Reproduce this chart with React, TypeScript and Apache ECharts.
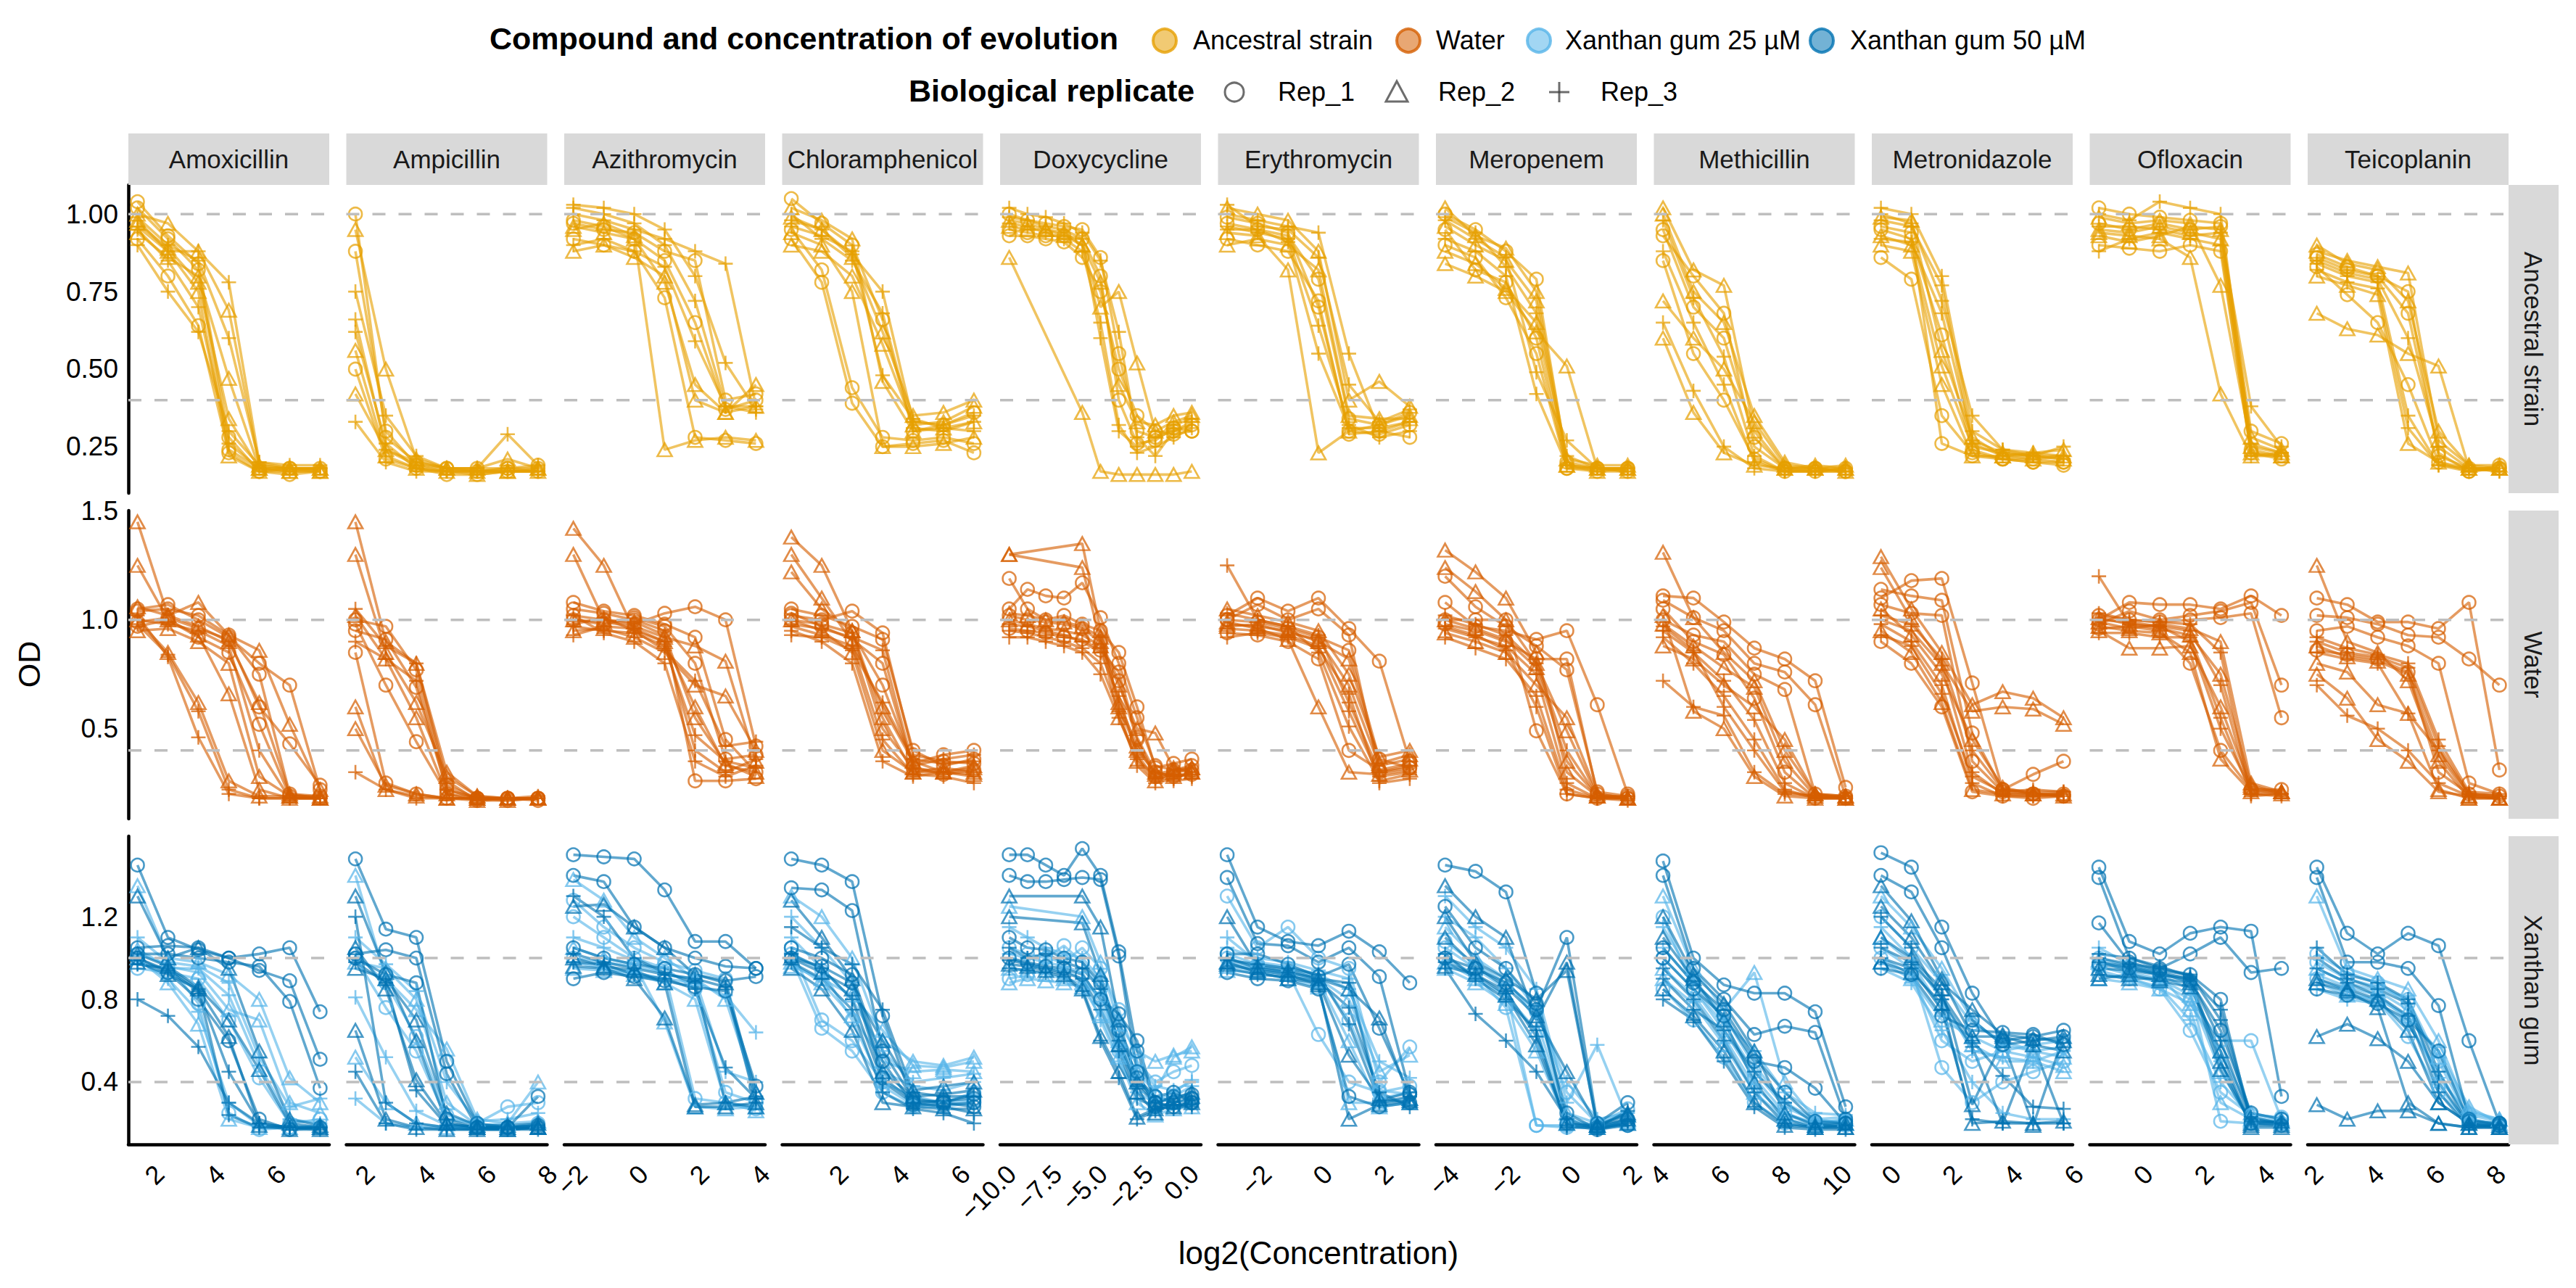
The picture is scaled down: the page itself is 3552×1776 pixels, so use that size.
import React, { useEffect, useRef } from 'react';
import * as echarts from 'echarts';

type Curve = [number, (number | null)[]];

const DRUGS = ['Amoxicillin', 'Ampicillin', 'Azithromycin', 'Chloramphenicol', 'Doxycycline', 'Erythromycin', 'Meropenem', 'Methicillin', 'Metronidazole', 'Ofloxacin', 'Teicoplanin'];
const ROW_LABELS = ['Ancestral strain', 'Water', 'Xanthan gum'];
const GROUP_LABELS = ['Ancestral strain', 'Water', 'Xanthan gum 25 µM', 'Xanthan gum 50 µM'];
const GROUP_COLORS = ['#E69F00', '#D55E00', '#56B4E9', '#0072B2'];
const REP_LABELS = ['Rep_1', 'Rep_2', 'Rep_3'];

// log2(concentration) per drug
const X_AMOX = [1.58, 2.58, 3.58, 4.58, 5.58, 6.58, 7.58];
const X_AMP = [1.83, 2.83, 3.83, 4.83, 5.83, 6.83, 7.83];
const X_AZI = [-2, -1, 0, 1, 2, 3, 4];
const X_CHL = [0.58, 1.58, 2.58, 3.58, 4.58, 5.58, 6.58];
const X_DOX = [-9.62, -8.62, -7.62, -6.62, -5.62, -4.62, -3.62, -2.62, -1.62, -0.62, 0.38];
const X_ERY = [-3, -2, -1, 0, 1, 2, 3];
const X_MER = [-4, -3, -2, -1, 0, 1, 2];
const X_MET = [4.26, 5.26, 6.26, 7.26, 8.26, 9.26, 10.26];
const X_MTZ = [-0.2, 0.8, 1.8, 2.8, 3.8, 4.8, 5.8];
const X_OFL = [-1.32, -0.32, 0.68, 1.68, 2.68, 3.68, 4.68];
const X_TEI = [2.25, 3.25, 4.25, 5.25, 6.25, 7.25, 8.25];

// tick labels
const XT_AMOX = [2, 4, 6];
const XT_AMP = [2, 4, 6, 8];
const XT_AZI = [-2, 0, 2, 4];
const XT_CHL = [2, 4, 6];
const XT_DOX = [-10, -7.5, -5, -2.5, 0];
const XT_ERY = [-2, 0, 2];
const XT_MER = [-4, -2, 0, 2];
const XT_MET = [4, 6, 8, 10];
const XT_MTZ = [0, 2, 4, 6];
const XT_OFL = [0, 2, 4];
const XT_TEI = [2, 4, 6, 8];

const YT_ANC = [0.25, 0.5, 0.75, 1.0];
const YT_WAT = [0.5, 1.0, 1.5];
const YT_XAN = [0.4, 0.8, 1.2];
const Y_RANGE_ANC = [0.1, 1.094];
const Y_RANGE_WAT = [0.086, 1.502];
const Y_RANGE_XAN = [0.098, 1.59];
const THRESHOLDS = [1.0, 0.4];

// ---------- Amoxicillin ----------
const AMOX_ANC: Curve[] = [
  [1, [1.02, 0.92, 0.82, 0.24, 0.18, 0.18, 0.18]],
  [2, [0.98, 0.88, 0.75, 0.22, 0.17, 0.17, 0.17]],
  [3, [0.95, 0.85, 0.70, 0.26, 0.18, 0.17, 0.18]],
  [1, [0.92, 0.80, 0.64, 0.23, 0.17, 0.18, 0.17]],
  [2, [1.00, 0.97, 0.88, 0.69, 0.19, 0.18, 0.18]],
  [3, [0.96, 0.88, 0.88, 0.78, 0.20, 0.18, 0.18]],
  [2, [0.94, 0.86, 0.80, 0.47, 0.18, 0.17, 0.17]],
  [3, [0.90, 0.75, 0.62, 0.30, 0.19, 0.18, 0.18]],
  [3, [0.99, 0.90, 0.85, 0.60, 0.20, 0.19, 0.19]],
  [2, [0.97, 0.89, 0.78, 0.34, 0.18, 0.18, 0.18]],
  [1, [1.04, 0.93, 0.84, 0.28, 0.17, 0.16, 0.17]],
];
const AMOX_WAT: Curve[] = [
  [2, [1.45, 1.02, 0.97, 0.90, 0.62, 0.20, 0.18]],
  [2, [1.00, 0.85, 0.62, 0.26, 0.19, 0.19, 0.19]],
  [3, [0.98, 0.84, 0.58, 0.22, 0.18, 0.18, 0.18]],
  [3, [1.02, 0.83, 0.46, 0.20, 0.18, 0.18, 0.18]],
  [1, [1.04, 1.05, 1.02, 0.93, 0.75, 0.20, 0.19]],
  [1, [1.05, 1.07, 1.00, 0.92, 0.80, 0.70, 0.22]],
  [1, [0.97, 1.00, 0.92, 0.85, 0.52, 0.19, 0.18]],
  [3, [1.00, 0.98, 0.95, 0.88, 0.40, 0.18, 0.18]],
  [2, [0.95, 0.96, 0.90, 0.80, 0.28, 0.19, 0.18]],
  [2, [1.06, 1.02, 1.08, 0.93, 0.86, 0.52, 0.22]],
  [2, [1.25, 1.00, 0.93, 0.66, 0.22, 0.18, 0.18]],
  [1, [0.99, 1.01, 0.96, 0.91, 0.60, 0.43, 0.24]],
];
const AMOX_X25: Curve[] = [
  [2, [1.35, 1.00, 0.98, 0.92, 0.80, 0.42, 0.30]],
  [2, [1.00, 0.88, 0.68, 0.22, 0.18, 0.18, 0.18]],
  [3, [0.97, 0.95, 0.95, 0.82, 0.48, 0.22, 0.20]],
  [2, [1.04, 0.96, 0.93, 0.75, 0.70, 0.30, 0.25]],
  [1, [0.95, 0.93, 0.90, 0.70, 0.42, 0.20, 0.22]],
  [1, [1.02, 0.97, 0.78, 0.25, 0.17, 0.18, 0.18]],
  [3, [1.10, 0.98, 0.96, 0.88, 0.52, 0.28, 0.32]],
  [3, [0.99, 0.90, 0.74, 0.30, 0.19, 0.18, 0.19]],
];
const AMOX_X50: Curve[] = [
  [1, [1.45, 1.10, 1.04, 1.00, 1.02, 1.05, 0.74]],
  [1, [1.05, 1.06, 1.05, 1.00, 0.94, 0.89, 0.51]],
  [1, [1.02, 1.02, 1.00, 0.98, 0.96, 0.79, 0.37]],
  [3, [1.00, 0.94, 0.84, 0.45, 0.20, 0.18, 0.18]],
  [2, [0.98, 0.92, 0.85, 0.62, 0.19, 0.17, 0.17]],
  [3, [0.80, 0.72, 0.57, 0.30, 0.20, 0.18, 0.17]],
  [2, [1.02, 0.96, 0.86, 0.70, 0.46, 0.20, 0.18]],
  [2, [1.30, 1.00, 1.05, 0.95, 0.55, 0.22, 0.19]],
  [3, [0.97, 0.95, 0.85, 0.24, 0.18, 0.18, 0.18]],
  [1, [1.00, 0.93, 0.80, 0.60, 0.22, 0.17, 0.18]],
];

// ---------- Ampicillin ----------
const AMP_ANC: Curve[] = [
  [1, [1.00, 0.28, 0.20, 0.18, 0.17, 0.18, 0.18]],
  [2, [0.95, 0.50, 0.21, 0.18, 0.17, 0.17, 0.18]],
  [3, [0.75, 0.35, 0.22, 0.18, 0.18, 0.29, 0.19]],
  [3, [0.66, 0.24, 0.19, 0.17, 0.17, 0.17, 0.17]],
  [2, [0.56, 0.22, 0.18, 0.17, 0.16, 0.17, 0.17]],
  [1, [0.50, 0.21, 0.18, 0.16, 0.16, 0.17, 0.17]],
  [2, [0.42, 0.24, 0.20, 0.18, 0.18, 0.21, 0.18]],
  [3, [0.33, 0.20, 0.17, 0.17, 0.17, 0.18, 0.17]],
  [1, [0.88, 0.30, 0.19, 0.18, 0.18, 0.18, 0.19]],
  [3, [0.62, 0.26, 0.18, 0.17, 0.17, 0.17, 0.17]],
];
const AMP_WAT: Curve[] = [
  [2, [1.45, 0.90, 0.80, 0.30, 0.19, 0.18, 0.18]],
  [1, [1.00, 0.97, 0.77, 0.24, 0.18, 0.18, 0.18]],
  [1, [0.95, 0.91, 0.69, 0.22, 0.18, 0.17, 0.18]],
  [2, [1.02, 0.82, 0.55, 0.20, 0.18, 0.18, 0.18]],
  [1, [0.98, 0.70, 0.44, 0.20, 0.17, 0.18, 0.17]],
  [3, [0.90, 0.82, 0.72, 0.22, 0.18, 0.18, 0.18]],
  [2, [0.60, 0.22, 0.19, 0.18, 0.18, 0.18, 0.18]],
  [2, [0.50, 0.24, 0.20, 0.18, 0.17, 0.17, 0.18]],
  [3, [0.30, 0.22, 0.18, 0.18, 0.18, 0.18, 0.18]],
  [2, [1.30, 0.85, 0.62, 0.28, 0.19, 0.18, 0.18]],
  [1, [0.85, 0.25, 0.20, 0.18, 0.18, 0.18, 0.18]],
  [3, [1.05, 0.88, 0.80, 0.26, 0.17, 0.18, 0.19]],
];
const AMP_X25: Curve[] = [
  [2, [1.40, 0.90, 0.75, 0.56, 0.22, 0.20, 0.40]],
  [1, [1.00, 0.76, 0.55, 0.22, 0.20, 0.28, 0.30]],
  [3, [0.81, 0.52, 0.26, 0.19, 0.18, 0.18, 0.19]],
  [2, [0.52, 0.30, 0.20, 0.18, 0.18, 0.18, 0.18]],
  [2, [0.98, 0.95, 0.80, 0.30, 0.19, 0.20, 0.21]],
  [1, [1.02, 0.88, 0.62, 0.24, 0.19, 0.18, 0.20]],
  [3, [0.32, 0.20, 0.18, 0.18, 0.18, 0.18, 0.18]],
  [3, [1.10, 0.97, 0.84, 0.40, 0.21, 0.22, 0.25]],
];
const AMP_X50: Curve[] = [
  [1, [1.48, 1.14, 1.10, 0.50, 0.20, 0.18, 0.19]],
  [1, [1.02, 1.04, 1.00, 0.44, 0.18, 0.18, 0.18]],
  [2, [1.30, 0.93, 0.60, 0.20, 0.18, 0.17, 0.18]],
  [1, [1.00, 0.92, 0.88, 0.22, 0.18, 0.18, 0.33]],
  [2, [0.65, 0.22, 0.18, 0.17, 0.17, 0.17, 0.18]],
  [2, [1.05, 0.85, 0.41, 0.20, 0.18, 0.18, 0.18]],
  [3, [0.45, 0.20, 0.17, 0.17, 0.17, 0.17, 0.17]],
  [3, [0.98, 0.88, 0.36, 0.19, 0.18, 0.18, 0.19]],
  [3, [1.20, 0.30, 0.20, 0.18, 0.17, 0.17, 0.18]],
  [2, [0.95, 0.90, 0.70, 0.25, 0.19, 0.19, 0.20]],
];

// ---------- Azithromycin ----------
const AZI_ANC: Curve[] = [
  [3, [1.00, 0.98, 0.95, 0.92, 0.88, 0.84, 0.38]],
  [2, [0.96, 0.94, 0.92, 0.78, 0.45, 0.36, 0.45]],
  [2, [0.95, 0.97, 0.93, 0.24, 0.27, 0.28, 0.27]],
  [1, [0.92, 0.90, 0.88, 0.73, 0.28, 0.27, 0.26]],
  [3, [1.02, 1.00, 0.97, 0.90, 0.72, 0.38, 0.38]],
  [1, [0.98, 0.96, 0.92, 0.85, 0.65, 0.37, 0.40]],
  [3, [0.90, 0.92, 0.88, 0.83, 0.59, 0.38, 0.36]],
  [3, [1.03, 1.02, 1.00, 0.95, 0.80, 0.52, 0.37]],
  [2, [0.88, 0.90, 0.86, 0.80, 0.40, 0.36, 0.38]],
  [1, [0.97, 0.95, 0.94, 0.88, 0.85, 0.40, 0.42]],
];
const AZI_WAT: Curve[] = [
  [2, [1.42, 1.25, 0.95, 0.90, 0.60, 0.33, 0.30]],
  [1, [1.02, 1.00, 0.98, 1.03, 1.06, 1.00, 0.42]],
  [1, [1.00, 0.98, 1.01, 0.97, 0.80, 0.36, 0.38]],
  [3, [0.97, 0.95, 0.94, 0.88, 0.47, 0.35, 0.32]],
  [1, [1.05, 1.03, 1.00, 0.95, 0.26, 0.26, 0.27]],
  [2, [0.95, 0.96, 0.92, 0.85, 0.70, 0.65, 0.40]],
  [2, [1.00, 0.99, 0.97, 0.92, 0.88, 0.81, 0.35]],
  [3, [0.93, 0.97, 0.96, 0.90, 0.40, 0.30, 0.36]],
  [1, [1.08, 1.04, 1.02, 0.98, 0.92, 0.45, 0.30]],
  [2, [1.30, 1.00, 0.99, 0.93, 0.55, 0.34, 0.28]],
  [3, [0.98, 1.01, 0.95, 0.86, 0.72, 0.42, 0.44]],
  [3, [1.02, 0.94, 0.90, 0.80, 0.35, 0.28, 0.33]],
];
const AZI_X25: Curve[] = [
  [2, [1.38, 1.28, 1.10, 1.00, 0.90, 0.80, 0.35]],
  [2, [1.05, 1.00, 0.97, 0.69, 0.28, 0.27, 0.28]],
  [3, [0.98, 0.95, 0.93, 0.90, 0.88, 0.82, 0.64]],
  [1, [1.20, 1.10, 1.00, 0.95, 0.85, 0.35, 0.30]],
  [1, [1.00, 0.98, 0.96, 0.93, 0.32, 0.30, 0.27]],
  [3, [1.10, 1.05, 0.99, 0.92, 0.90, 0.45, 0.40]],
  [2, [0.95, 0.94, 0.92, 0.88, 0.80, 0.30, 0.26]],
  [1, [1.28, 1.15, 1.05, 0.98, 0.94, 0.90, 0.30]],
];
const AZI_X50: Curve[] = [
  [1, [1.50, 1.49, 1.48, 1.33, 1.08, 1.08, 0.95]],
  [1, [1.40, 1.37, 1.15, 1.05, 1.00, 0.96, 0.95]],
  [3, [1.02, 0.98, 0.95, 0.92, 0.90, 0.86, 0.30]],
  [2, [1.00, 0.96, 0.94, 0.88, 0.28, 0.28, 0.30]],
  [3, [0.98, 0.97, 0.92, 0.90, 0.85, 0.47, 0.32]],
  [2, [1.25, 1.26, 1.15, 1.05, 0.92, 0.88, 0.35]],
  [2, [0.96, 0.95, 0.90, 0.71, 0.29, 0.30, 0.28]],
  [1, [1.05, 1.00, 0.97, 0.95, 0.92, 0.89, 0.91]],
  [3, [1.30, 1.20, 1.00, 0.93, 0.88, 0.30, 0.33]],
  [1, [0.90, 0.93, 0.91, 0.89, 0.86, 0.84, 0.38]],
];

// ---------- Chloramphenicol ----------
const CHL_ANC: Curve[] = [
  [2, [1.02, 0.98, 0.92, 0.46, 0.30, 0.31, 0.33]],
  [3, [0.98, 0.95, 0.87, 0.75, 0.33, 0.32, 0.35]],
  [1, [0.95, 0.82, 0.44, 0.28, 0.27, 0.28, 0.26]],
  [1, [0.92, 0.78, 0.39, 0.25, 0.26, 0.27, 0.23]],
  [3, [1.00, 0.92, 0.85, 0.68, 0.31, 0.30, 0.33]],
  [2, [0.90, 0.88, 0.80, 0.58, 0.32, 0.33, 0.38]],
  [3, [0.96, 0.93, 0.88, 0.48, 0.34, 0.31, 0.30]],
  [1, [1.05, 0.97, 0.90, 0.66, 0.30, 0.32, 0.36]],
  [2, [0.94, 0.90, 0.75, 0.25, 0.25, 0.26, 0.28]],
  [2, [0.99, 0.95, 0.86, 0.62, 0.35, 0.36, 0.40]],
];
const CHL_WAT: Curve[] = [
  [2, [1.38, 1.25, 0.95, 0.50, 0.32, 0.30, 0.33]],
  [1, [1.02, 1.00, 1.04, 0.94, 0.38, 0.35, 0.34]],
  [3, [0.98, 0.96, 0.92, 0.86, 0.33, 0.36, 0.38]],
  [2, [1.00, 0.95, 0.85, 0.40, 0.30, 0.32, 0.30]],
  [3, [0.95, 0.90, 0.80, 0.35, 0.28, 0.30, 0.28]],
  [1, [1.05, 1.02, 0.97, 0.91, 0.40, 0.33, 0.36]],
  [2, [1.30, 1.10, 0.90, 0.60, 0.35, 0.30, 0.32]],
  [3, [0.97, 0.93, 0.88, 0.45, 0.29, 0.28, 0.25]],
  [1, [1.00, 0.98, 0.94, 0.70, 0.34, 0.38, 0.40]],
  [2, [1.22, 1.05, 0.95, 0.55, 0.30, 0.30, 0.29]],
  [3, [0.93, 0.92, 0.86, 0.62, 0.36, 0.34, 0.35]],
  [1, [1.03, 0.97, 0.91, 0.80, 0.32, 0.29, 0.31]],
];
const CHL_X25: Curve[] = [
  [2, [1.30, 1.20, 1.00, 0.60, 0.50, 0.48, 0.52]],
  [1, [1.05, 0.70, 0.60, 0.40, 0.33, 0.30, 0.35]],
  [2, [0.98, 0.88, 0.72, 0.50, 0.45, 0.46, 0.45]],
  [3, [1.10, 0.95, 0.80, 0.55, 0.40, 0.42, 0.44]],
  [1, [1.00, 0.66, 0.55, 0.35, 0.28, 0.28, 0.30]],
  [3, [1.20, 1.05, 0.88, 0.45, 0.38, 0.36, 0.40]],
  [2, [0.96, 0.90, 0.82, 0.65, 0.48, 0.47, 0.50]],
  [1, [1.02, 0.94, 0.70, 0.38, 0.29, 0.30, 0.31]],
];
const CHL_X50: Curve[] = [
  [1, [1.48, 1.45, 1.37, 0.72, 0.30, 0.31, 0.32]],
  [1, [1.34, 1.33, 1.23, 0.55, 0.32, 0.30, 0.28]],
  [3, [1.02, 0.95, 0.80, 0.40, 0.30, 0.28, 0.25]],
  [2, [1.28, 1.10, 0.90, 0.45, 0.33, 0.34, 0.36]],
  [3, [0.98, 0.90, 0.75, 0.35, 0.27, 0.25, 0.20]],
  [2, [1.00, 0.93, 0.85, 0.60, 0.36, 0.38, 0.40]],
  [1, [1.05, 1.00, 0.92, 0.50, 0.29, 0.29, 0.30]],
  [2, [0.95, 0.85, 0.65, 0.30, 0.28, 0.27, 0.27]],
  [3, [1.15, 1.05, 0.97, 0.75, 0.35, 0.33, 0.33]],
  [1, [1.00, 0.96, 0.88, 0.42, 0.31, 0.30, 0.34]],
];

// ---------- Doxycycline ----------
const DOX_ANC: Curve[] = [
  [1, [1.00, 0.98, 0.97, 0.96, 0.95, 0.86, 0.55, 0.30, 0.28, 0.30, 0.32]],
  [1, [0.95, 0.94, 0.93, 0.93, 0.92, 0.80, 0.40, 0.26, 0.27, 0.31, 0.30]],
  [2, [0.86, null, null, null, 0.36, 0.17, 0.16, 0.16, 0.16, 0.16, 0.17]],
  [2, [0.98, 0.97, 0.95, 0.94, 0.90, 0.70, 0.75, 0.52, 0.30, 0.33, 0.35]],
  [3, [0.97, 0.96, 0.94, 0.92, 0.88, 0.65, 0.32, 0.23, 0.25, 0.28, 0.31]],
  [1, [0.93, 0.93, 0.92, 0.91, 0.86, 0.75, 0.50, 0.35, 0.30, 0.29, 0.30]],
  [3, [1.02, 1.00, 0.99, 0.97, 0.94, 0.85, 0.62, 0.28, 0.22, 0.30, 0.33]],
  [2, [0.96, 0.95, 0.95, 0.93, 0.90, 0.78, 0.45, 0.33, 0.32, 0.35, 0.36]],
  [3, [0.99, 0.98, 0.96, 0.95, 0.92, 0.60, 0.30, 0.25, 0.28, 0.32, 0.34]],
];
const DOX_WAT: Curve[] = [
  [2, [1.30, null, null, null, 1.35, 0.95, 0.60, 0.40, 0.30, 0.28, 0.30]],
  [2, [1.30, null, null, null, 1.24, 0.90, 0.55, 0.35, 0.26, 0.30, 0.32]],
  [1, [1.05, 1.14, 1.11, 1.10, 1.17, 1.01, 0.80, 0.55, 0.33, 0.31, 0.33]],
  [1, [1.02, 1.00, 0.99, 0.98, 0.96, 0.90, 0.72, 0.45, 0.28, 0.30, 0.31]],
  [3, [0.98, 0.97, 0.95, 0.93, 0.90, 0.85, 0.65, 0.38, 0.27, 0.29, 0.28]],
  [3, [0.95, 0.94, 0.92, 0.90, 0.87, 0.80, 0.58, 0.33, 0.25, 0.27, 0.30]],
  [2, [1.00, 0.98, 0.96, 0.95, 0.93, 0.88, 0.70, 0.50, 0.48, 0.32, 0.30]],
  [3, [0.92, 0.92, 0.90, 0.88, 0.85, 0.75, 0.55, 0.36, 0.28, 0.26, 0.27]],
  [1, [1.19, 1.05, 1.00, 1.02, 0.98, 0.95, 0.85, 0.60, 0.32, 0.34, 0.36]],
  [2, [1.03, 1.02, 1.00, 0.99, 0.97, 0.92, 0.62, 0.42, 0.29, 0.31, 0.32]],
  [1, [0.96, 0.95, 0.94, 0.92, 0.91, 0.86, 0.76, 0.46, 0.30, 0.28, 0.29]],
];
const DOX_X25: Curve[] = [
  [2, [1.25, null, null, null, 1.20, 0.98, 0.68, 0.55, 0.50, 0.53, 0.55]],
  [1, [1.05, 1.02, 1.00, 0.98, 1.05, 0.95, 0.75, 0.50, 0.40, 0.45, 0.48]],
  [2, [0.95, 0.94, 0.92, 0.90, 0.88, 0.82, 0.60, 0.45, 0.35, 0.52, 0.57]],
  [3, [1.00, 0.97, 0.95, 0.94, 0.90, 0.70, 0.50, 0.35, 0.30, 0.33, 0.38]],
  [1, [0.90, 0.92, 1.00, 1.06, 0.98, 0.85, 0.55, 0.40, 0.33, 0.30, 0.32]],
  [3, [1.15, 1.10, 1.05, 1.02, 1.00, 0.90, 0.65, 0.48, 0.38, 0.36, 0.40]],
  [2, [0.88, 0.90, 0.89, 0.88, 0.86, 0.72, 0.52, 0.30, 0.24, 0.27, 0.28]],
  [3, [1.02, 1.00, 0.98, 0.96, 0.93, 0.78, 0.58, 0.42, 0.31, 0.35, 0.41]],
];
const DOX_X50: Curve[] = [
  [1, [1.50, 1.50, 1.45, 1.40, 1.53, 1.40, 1.03, 0.55, 0.30, 0.28, 0.30]],
  [1, [1.40, 1.37, 1.37, 1.38, 1.39, 1.38, 1.01, 0.45, 0.28, 0.30, 0.32]],
  [2, [1.30, null, null, null, 1.30, 1.15, 0.70, 0.40, 0.30, 0.32, 0.33]],
  [2, [0.97, 0.96, 0.94, 0.92, 0.85, 0.62, 0.45, 0.23, 0.27, 0.28, 0.30]],
  [3, [0.95, 0.94, 0.93, 0.91, 0.84, 0.60, 0.42, 0.22, 0.26, 0.29, 0.28]],
  [3, [1.05, 1.00, 1.02, 0.98, 0.95, 0.85, 0.60, 0.38, 0.30, 0.28, 0.31]],
  [2, [1.20, null, null, null, 1.17, 0.92, 0.58, 0.35, 0.25, 0.32, 0.35]],
  [1, [1.00, 0.98, 0.96, 0.95, 0.92, 0.80, 0.73, 0.60, 0.30, 0.33, 0.34]],
  [3, [0.99, 0.97, 0.95, 0.93, 0.90, 0.75, 0.55, 0.32, 0.28, 0.27, 0.29]],
  [1, [1.10, 1.05, 1.04, 1.00, 0.98, 0.88, 0.65, 0.42, 0.33, 0.35, 0.30]],
];

// ---------- Erythromycin ----------
const ERY_ANC: Curve[] = [
  [3, [1.00, 0.98, 0.96, 0.94, 0.55, 0.30, 0.33]],
  [1, [0.97, 0.95, 0.93, 0.79, 0.34, 0.32, 0.36]],
  [2, [0.94, 0.93, 0.82, 0.23, 0.30, 0.32, 0.35]],
  [1, [0.92, 0.90, 0.88, 0.72, 0.29, 0.30, 0.28]],
  [2, [1.02, 1.00, 0.98, 0.88, 0.40, 0.46, 0.38]],
  [3, [0.96, 0.94, 0.92, 0.64, 0.32, 0.28, 0.30]],
  [2, [0.90, 0.92, 0.90, 0.82, 0.35, 0.34, 0.34]],
  [1, [0.99, 0.97, 0.94, 0.70, 0.30, 0.29, 0.32]],
  [3, [1.03, 0.96, 0.95, 0.86, 0.45, 0.33, 0.37]],
  [3, [0.95, 0.95, 0.91, 0.55, 0.31, 0.31, 0.33]],
];
const ERY_WAT: Curve[] = [
  [3, [1.25, 1.00, 0.97, 0.93, 0.62, 0.30, 0.33]],
  [1, [1.02, 1.10, 1.04, 1.10, 0.96, 0.81, 0.35]],
  [1, [1.00, 1.07, 1.00, 1.05, 0.93, 0.30, 0.32]],
  [2, [0.98, 0.97, 0.95, 0.90, 0.82, 0.34, 0.38]],
  [3, [0.96, 0.95, 0.93, 0.88, 0.58, 0.28, 0.30]],
  [3, [1.03, 1.00, 0.97, 0.85, 0.51, 0.26, 0.29]],
  [2, [0.97, 0.98, 0.94, 0.91, 0.70, 0.33, 0.36]],
  [1, [0.94, 0.93, 0.90, 0.82, 0.40, 0.31, 0.34]],
  [2, [1.05, 1.02, 0.99, 0.95, 0.75, 0.37, 0.40]],
  [3, [0.92, 0.94, 0.92, 0.87, 0.66, 0.25, 0.27]],
  [1, [1.00, 0.99, 0.96, 0.92, 0.86, 0.36, 0.32]],
  [2, [0.99, 0.96, 0.91, 0.60, 0.30, 0.29, 0.31]],
];
const ERY_X25: Curve[] = [
  [1, [1.30, 1.05, 1.15, 1.00, 0.95, 0.40, 0.57]],
  [1, [1.00, 0.96, 0.93, 0.63, 0.40, 0.35, 0.38]],
  [2, [0.98, 0.95, 0.93, 0.90, 0.80, 0.45, 0.53]],
  [3, [1.05, 1.00, 0.98, 0.94, 0.90, 0.32, 0.35]],
  [2, [0.96, 0.94, 0.92, 0.89, 0.60, 0.28, 0.30]],
  [3, [1.10, 0.98, 0.96, 0.92, 0.85, 0.50, 0.42]],
  [2, [0.94, 0.93, 0.90, 0.86, 0.30, 0.30, 0.32]],
  [1, [1.02, 0.97, 0.95, 0.91, 0.70, 0.36, 0.34]],
];
const ERY_X50: Curve[] = [
  [1, [1.50, 1.15, 1.08, 1.06, 1.13, 1.03, 0.88]],
  [1, [1.39, 1.07, 1.06, 0.98, 1.05, 0.91, 0.35]],
  [3, [1.00, 0.95, 0.93, 0.90, 0.88, 0.30, 0.33]],
  [2, [0.97, 0.94, 0.92, 0.87, 0.22, 0.29, 0.31]],
  [2, [0.98, 0.93, 0.90, 0.88, 0.53, 0.32, 0.30]],
  [1, [1.02, 1.02, 0.97, 0.91, 0.97, 0.66, 0.34]],
  [3, [0.95, 0.92, 0.91, 0.89, 0.76, 0.35, 0.28]],
  [2, [1.20, 0.96, 0.94, 0.90, 0.85, 0.71, 0.32]],
  [3, [0.99, 0.97, 0.95, 0.92, 0.68, 0.31, 0.35]],
  [1, [0.93, 0.90, 0.89, 0.85, 0.33, 0.28, 0.30]],
];

// ---------- Meropenem ----------
const MER_ANC: Curve[] = [
  [1, [1.00, 0.95, 0.88, 0.79, 0.20, 0.18, 0.18]],
  [2, [0.96, 0.90, 0.85, 0.72, 0.19, 0.17, 0.17]],
  [2, [0.84, 0.80, 0.75, 0.62, 0.51, 0.18, 0.18]],
  [1, [0.95, 0.82, 0.78, 0.60, 0.18, 0.18, 0.17]],
  [3, [0.98, 0.92, 0.86, 0.49, 0.27, 0.18, 0.18]],
  [3, [0.92, 0.88, 0.80, 0.42, 0.19, 0.18, 0.18]],
  [2, [1.02, 0.93, 0.89, 0.75, 0.21, 0.19, 0.19]],
  [1, [0.90, 0.86, 0.73, 0.55, 0.18, 0.17, 0.18]],
  [3, [0.99, 0.94, 0.83, 0.68, 0.22, 0.18, 0.17]],
  [2, [0.88, 0.84, 0.76, 0.65, 0.19, 0.18, 0.18]],
];
const MER_WAT: Curve[] = [
  [2, [1.32, 1.22, 1.10, 0.85, 0.30, 0.19, 0.18]],
  [2, [1.24, 1.13, 1.00, 0.80, 0.49, 0.19, 0.18]],
  [1, [1.08, 0.97, 0.95, 0.91, 0.95, 0.61, 0.20]],
  [1, [1.00, 1.00, 1.00, 0.49, 0.20, 0.18, 0.18]],
  [1, [0.98, 0.95, 0.90, 0.82, 0.82, 0.20, 0.18]],
  [3, [0.96, 0.92, 0.88, 0.75, 0.25, 0.18, 0.19]],
  [2, [0.94, 0.90, 0.85, 0.70, 0.55, 0.20, 0.18]],
  [3, [1.02, 0.98, 0.93, 0.80, 0.40, 0.19, 0.19]],
  [3, [0.92, 0.87, 0.82, 0.65, 0.22, 0.18, 0.17]],
  [1, [1.20, 1.06, 0.97, 0.88, 0.77, 0.21, 0.19]],
  [2, [1.00, 0.96, 0.91, 0.78, 0.35, 0.19, 0.18]],
  [3, [0.97, 0.93, 0.86, 0.60, 0.20, 0.18, 0.18]],
];
const MER_X25: Curve[] = [
  [3, [1.30, 1.15, 1.05, 0.85, 0.30, 0.58, 0.22]],
  [1, [1.05, 0.95, 0.85, 0.19, 0.19, 0.19, 0.20]],
  [1, [1.00, 0.92, 0.76, 0.19, 0.18, 0.18, 0.19]],
  [2, [1.15, 1.00, 0.90, 0.70, 0.25, 0.20, 0.24]],
  [2, [0.98, 0.90, 0.82, 0.65, 0.22, 0.19, 0.21]],
  [3, [1.20, 1.10, 0.95, 0.75, 0.40, 0.22, 0.25]],
  [2, [0.95, 0.88, 0.78, 0.55, 0.20, 0.18, 0.20]],
  [1, [1.08, 0.97, 0.88, 0.74, 0.35, 0.20, 0.27]],
];
const MER_X50: Curve[] = [
  [1, [1.45, 1.42, 1.32, 0.83, 0.20, 0.18, 0.22]],
  [2, [1.35, 1.20, 1.10, 0.70, 0.98, 0.18, 0.20]],
  [2, [1.20, 0.98, 0.90, 0.80, 0.94, 0.19, 0.25]],
  [1, [1.00, 0.95, 0.88, 0.75, 1.10, 0.20, 0.30]],
  [3, [0.98, 0.92, 0.84, 0.62, 0.19, 0.17, 0.21]],
  [3, [0.95, 0.73, 0.60, 0.45, 0.22, 0.17, 0.20]],
  [2, [1.10, 0.96, 0.86, 0.72, 0.45, 0.19, 0.24]],
  [3, [1.02, 0.90, 0.80, 0.65, 0.18, 0.18, 0.26]],
  [1, [1.25, 1.05, 0.95, 0.78, 0.25, 0.17, 0.19]],
  [2, [0.96, 0.92, 0.82, 0.58, 0.20, 0.19, 0.22]],
];

// ---------- Methicillin ----------
const MET_ANC: Curve[] = [
  [2, [1.02, 0.82, 0.77, 0.30, 0.18, 0.18, 0.17]],
  [3, [0.98, 0.73, 0.54, 0.22, 0.17, 0.17, 0.18]],
  [1, [0.95, 0.70, 0.60, 0.28, 0.18, 0.18, 0.17]],
  [3, [0.88, 0.65, 0.45, 0.20, 0.17, 0.17, 0.17]],
  [2, [0.72, 0.60, 0.50, 0.33, 0.19, 0.18, 0.18]],
  [3, [0.65, 0.43, 0.25, 0.18, 0.17, 0.17, 0.17]],
  [2, [0.60, 0.36, 0.23, 0.19, 0.18, 0.19, 0.18]],
  [1, [0.93, 0.80, 0.68, 0.25, 0.18, 0.17, 0.18]],
  [2, [1.00, 0.75, 0.65, 0.35, 0.20, 0.18, 0.19]],
  [1, [0.85, 0.55, 0.40, 0.21, 0.17, 0.18, 0.17]],
];
const MET_WAT: Curve[] = [
  [2, [1.31, 1.01, 0.85, 0.72, 0.40, 0.20, 0.19]],
  [1, [1.11, 1.10, 0.99, 0.87, 0.82, 0.72, 0.23]],
  [1, [1.09, 1.01, 0.95, 0.80, 0.76, 0.61, 0.19]],
  [1, [1.00, 0.93, 0.90, 0.75, 0.68, 0.20, 0.18]],
  [2, [0.98, 0.88, 0.78, 0.69, 0.35, 0.19, 0.18]],
  [3, [0.95, 0.85, 0.72, 0.54, 0.25, 0.18, 0.18]],
  [3, [0.92, 0.80, 0.65, 0.45, 0.22, 0.18, 0.19]],
  [3, [0.72, 0.60, 0.56, 0.30, 0.20, 0.19, 0.18]],
  [2, [1.02, 0.58, 0.50, 0.28, 0.19, 0.18, 0.18]],
  [2, [0.88, 0.82, 0.70, 0.60, 0.45, 0.20, 0.19]],
  [1, [1.05, 0.90, 0.84, 0.64, 0.30, 0.18, 0.18]],
  [3, [0.97, 0.86, 0.60, 0.40, 0.21, 0.19, 0.19]],
];
const MET_X25: Curve[] = [
  [2, [1.30, 0.95, 0.75, 0.93, 0.40, 0.22, 0.20]],
  [1, [1.00, 0.85, 0.65, 0.42, 0.25, 0.20, 0.21]],
  [2, [0.90, 0.78, 0.58, 0.35, 0.22, 0.19, 0.20]],
  [3, [1.15, 0.90, 0.72, 0.48, 0.30, 0.22, 0.23]],
  [1, [0.85, 0.70, 0.52, 0.30, 0.20, 0.18, 0.19]],
  [3, [1.05, 0.88, 0.70, 0.55, 0.35, 0.25, 0.24]],
  [2, [0.95, 0.82, 0.62, 0.38, 0.24, 0.20, 0.22]],
  [1, [1.20, 0.85, 0.68, 0.45, 0.28, 0.21, 0.21]],
];
const MET_X50: Curve[] = [
  [1, [1.47, 1.00, 0.87, 0.83, 0.83, 0.74, 0.28]],
  [1, [1.40, 0.95, 0.80, 0.63, 0.67, 0.64, 0.22]],
  [1, [1.00, 0.85, 0.72, 0.50, 0.47, 0.37, 0.20]],
  [2, [1.10, 0.90, 0.70, 0.40, 0.22, 0.18, 0.18]],
  [3, [0.95, 0.80, 0.60, 0.35, 0.20, 0.18, 0.19]],
  [2, [0.85, 0.72, 0.55, 0.30, 0.19, 0.18, 0.18]],
  [3, [0.90, 0.75, 0.65, 0.45, 0.30, 0.20, 0.18]],
  [2, [1.20, 0.92, 0.78, 0.55, 0.25, 0.19, 0.20]],
  [3, [0.80, 0.70, 0.50, 0.28, 0.18, 0.17, 0.17]],
  [1, [1.05, 0.88, 0.75, 0.52, 0.35, 0.21, 0.20]],
];

// ---------- Metronidazole ----------
const MTZ_ANC: Curve[] = [
  [3, [1.02, 1.00, 0.80, 0.30, 0.24, 0.23, 0.22]],
  [3, [0.98, 0.96, 0.77, 0.26, 0.22, 0.22, 0.21]],
  [1, [0.95, 0.92, 0.61, 0.24, 0.21, 0.21, 0.20]],
  [2, [0.90, 0.88, 0.45, 0.22, 0.22, 0.21, 0.22]],
  [1, [0.86, 0.79, 0.35, 0.23, 0.21, 0.20, 0.19]],
  [3, [1.00, 0.97, 0.72, 0.35, 0.24, 0.22, 0.25]],
  [2, [0.93, 0.90, 0.51, 0.25, 0.23, 0.22, 0.21]],
  [1, [0.96, 0.94, 0.26, 0.22, 0.21, 0.20, 0.20]],
  [2, [0.99, 0.98, 0.56, 0.28, 0.22, 0.23, 0.24]],
  [3, [0.92, 0.91, 0.68, 0.27, 0.23, 0.22, 0.22]],
];
const MTZ_WAT: Curve[] = [
  [1, [1.10, 1.18, 1.19, 0.71, 0.22, 0.20, 0.19]],
  [2, [1.29, 1.05, 0.85, 0.61, 0.67, 0.64, 0.55]],
  [2, [1.24, 1.00, 0.80, 0.58, 0.60, 0.59, 0.52]],
  [1, [1.14, 1.11, 1.09, 0.48, 0.22, 0.29, 0.35]],
  [1, [1.07, 1.03, 1.02, 0.35, 0.21, 0.20, 0.20]],
  [3, [1.00, 0.95, 0.79, 0.30, 0.20, 0.19, 0.19]],
  [3, [0.98, 0.90, 0.70, 0.25, 0.19, 0.19, 0.20]],
  [2, [0.95, 0.85, 0.62, 0.22, 0.20, 0.20, 0.19]],
  [3, [1.02, 0.98, 0.82, 0.40, 0.22, 0.21, 0.21]],
  [1, [0.90, 0.80, 0.60, 0.21, 0.19, 0.18, 0.19]],
  [2, [1.05, 0.93, 0.75, 0.45, 0.23, 0.20, 0.20]],
  [3, [0.93, 0.88, 0.66, 0.28, 0.21, 0.22, 0.21]],
];
const MTZ_X25: Curve[] = [
  [2, [1.30, 1.15, 0.95, 0.70, 0.58, 0.55, 0.52]],
  [1, [1.05, 0.95, 0.47, 0.30, 0.40, 0.45, 0.50]],
  [3, [1.15, 1.00, 0.80, 0.55, 0.52, 0.50, 0.55]],
  [2, [0.98, 0.90, 0.70, 0.62, 0.55, 0.52, 0.48]],
  [1, [1.20, 1.05, 0.88, 0.68, 0.60, 0.55, 0.57]],
  [3, [0.95, 0.88, 0.65, 0.40, 0.25, 0.22, 0.22]],
  [2, [1.10, 0.98, 0.75, 0.58, 0.50, 0.50, 0.45]],
  [1, [1.00, 0.92, 0.60, 0.50, 0.55, 0.58, 0.60]],
];
const MTZ_X50: Curve[] = [
  [1, [1.51, 1.44, 1.15, 0.83, 0.60, 0.62, 0.65]],
  [1, [1.40, 1.32, 1.05, 0.70, 0.58, 0.60, 0.62]],
  [2, [1.35, 1.18, 0.90, 0.62, 0.62, 0.58, 0.55]],
  [2, [1.10, 1.00, 0.85, 0.29, 0.60, 0.19, 0.62]],
  [3, [1.00, 0.95, 0.75, 0.22, 0.20, 0.58, 0.20]],
  [3, [1.20, 1.05, 0.80, 0.57, 0.20, 0.20, 0.20]],
  [1, [0.95, 0.92, 0.72, 0.65, 0.64, 0.63, 0.58]],
  [3, [1.05, 0.98, 0.82, 0.60, 0.43, 0.28, 0.27]],
  [2, [1.25, 1.10, 0.88, 0.75, 0.63, 0.61, 0.60]],
  [2, [0.98, 0.93, 0.78, 0.20, 0.21, 0.20, 0.21]],
];

// ---------- Ofloxacin ----------
const OFL_ANC: Curve[] = [
  [3, [1.00, 0.98, 1.04, 1.02, 1.00, 0.26, 0.23]],
  [1, [0.97, 0.95, 0.97, 0.95, 0.96, 0.24, 0.22]],
  [2, [0.94, 0.93, 0.92, 0.86, 0.42, 0.22, 0.22]],
  [3, [0.96, 0.96, 0.95, 0.93, 0.94, 0.38, 0.25]],
  [1, [0.90, 0.89, 0.88, 0.90, 0.88, 0.23, 0.21]],
  [2, [0.99, 0.97, 0.98, 0.97, 0.77, 0.25, 0.23]],
  [2, [0.95, 0.94, 0.96, 0.94, 0.92, 0.28, 0.24]],
  [3, [0.88, 0.92, 0.94, 0.92, 0.90, 0.22, 0.23]],
  [1, [1.02, 1.00, 0.99, 0.98, 0.97, 0.30, 0.26]],
  [2, [0.93, 0.91, 0.93, 0.96, 0.95, 0.23, 0.22]],
];
const OFL_WAT: Curve[] = [
  [1, [1.00, 1.08, 1.07, 1.07, 1.05, 1.11, 1.02]],
  [1, [0.98, 1.04, 1.00, 1.02, 1.04, 1.08, 0.70]],
  [1, [1.02, 1.00, 0.99, 1.00, 1.01, 1.03, 0.55]],
  [3, [1.20, 0.98, 0.97, 0.90, 0.50, 0.22, 0.20]],
  [2, [0.97, 0.95, 0.94, 0.85, 0.36, 0.21, 0.21]],
  [3, [1.00, 0.99, 0.97, 0.95, 0.70, 0.20, 0.20]],
  [2, [0.95, 0.87, 0.87, 0.88, 0.60, 0.23, 0.21]],
  [3, [1.03, 1.00, 0.99, 0.98, 0.85, 0.19, 0.20]],
  [1, [0.96, 0.97, 0.95, 0.80, 0.40, 0.22, 0.22]],
  [2, [0.99, 0.96, 0.98, 0.96, 0.90, 0.25, 0.21]],
  [3, [0.94, 0.94, 0.92, 0.92, 0.55, 0.20, 0.19]],
  [2, [1.01, 0.98, 0.96, 0.93, 0.75, 0.24, 0.20]],
];
const OFL_X25: Curve[] = [
  [1, [1.00, 0.96, 0.92, 0.85, 0.21, 0.20, 0.20]],
  [1, [0.96, 0.92, 0.88, 0.80, 0.60, 0.60, 0.22]],
  [3, [0.94, 0.90, 0.86, 0.70, 0.40, 0.23, 0.21]],
  [2, [0.90, 0.88, 0.85, 0.78, 0.55, 0.25, 0.22]],
  [2, [0.98, 0.95, 0.92, 0.75, 0.30, 0.22, 0.20]],
  [3, [1.05, 0.97, 0.93, 0.88, 0.50, 0.20, 0.20]],
  [1, [0.92, 0.90, 0.85, 0.65, 0.35, 0.24, 0.23]],
  [2, [0.99, 0.93, 0.90, 0.82, 0.45, 0.21, 0.21]],
];
const OFL_X50: Curve[] = [
  [1, [1.44, 1.08, 1.02, 1.12, 1.15, 1.13, 0.33]],
  [1, [1.39, 1.00, 0.95, 1.02, 1.10, 0.93, 0.95]],
  [1, [1.17, 0.98, 0.94, 0.92, 0.80, 0.20, 0.19]],
  [3, [0.98, 0.96, 0.93, 0.90, 0.60, 0.21, 0.20]],
  [2, [0.95, 0.94, 0.92, 0.90, 0.50, 0.19, 0.19]],
  [3, [1.00, 0.97, 0.95, 0.92, 0.70, 0.22, 0.20]],
  [2, [0.92, 0.90, 0.90, 0.88, 0.46, 0.20, 0.21]],
  [3, [1.02, 1.00, 0.96, 0.91, 0.75, 0.23, 0.20]],
  [2, [0.90, 0.92, 0.89, 0.86, 0.55, 0.18, 0.18]],
  [1, [0.97, 0.95, 0.92, 0.89, 0.65, 0.25, 0.22]],
];

// ---------- Teicoplanin ----------
const TEI_ANC: Curve[] = [
  [2, [0.88, 0.85, 0.83, 0.81, 0.27, 0.19, 0.18]],
  [1, [0.86, 0.82, 0.80, 0.75, 0.22, 0.18, 0.18]],
  [3, [0.84, 0.80, 0.78, 0.35, 0.19, 0.17, 0.18]],
  [3, [0.82, 0.78, 0.76, 0.31, 0.19, 0.18, 0.17]],
  [2, [0.68, 0.63, 0.61, 0.55, 0.51, 0.18, 0.18]],
  [1, [0.83, 0.74, 0.65, 0.45, 0.20, 0.17, 0.18]],
  [2, [0.90, 0.84, 0.82, 0.72, 0.30, 0.19, 0.19]],
  [3, [0.85, 0.81, 0.79, 0.60, 0.25, 0.18, 0.17]],
  [2, [0.80, 0.77, 0.74, 0.26, 0.20, 0.18, 0.18]],
  [1, [0.87, 0.83, 0.80, 0.68, 0.23, 0.17, 0.19]],
];
const TEI_WAT: Curve[] = [
  [1, [1.10, 1.07, 0.99, 0.99, 0.96, 1.08, 0.31]],
  [1, [1.02, 1.01, 0.98, 0.93, 0.92, 0.82, 0.70]],
  [1, [0.95, 0.97, 0.92, 0.88, 0.80, 0.25, 0.20]],
  [3, [0.90, 0.85, 0.83, 0.78, 0.42, 0.20, 0.19]],
  [2, [0.88, 0.83, 0.81, 0.75, 0.38, 0.19, 0.18]],
  [2, [0.80, 0.76, 0.61, 0.57, 0.22, 0.18, 0.18]],
  [2, [0.75, 0.64, 0.45, 0.35, 0.21, 0.19, 0.18]],
  [3, [0.85, 0.82, 0.80, 0.57, 0.40, 0.20, 0.19]],
  [3, [0.92, 0.87, 0.84, 0.80, 0.45, 0.21, 0.20]],
  [3, [0.70, 0.56, 0.50, 0.40, 0.25, 0.19, 0.18]],
  [2, [1.25, 0.90, 0.85, 0.72, 0.35, 0.18, 0.18]],
  [1, [0.86, 0.84, 0.82, 0.76, 0.30, 0.20, 0.19]],
];
const TEI_X25: Curve[] = [
  [2, [1.30, 0.95, 0.90, 0.85, 0.60, 0.25, 0.22]],
  [1, [0.98, 0.90, 0.86, 0.80, 0.50, 0.22, 0.20]],
  [3, [0.92, 0.86, 0.82, 0.70, 0.42, 0.24, 0.21]],
  [2, [0.88, 0.82, 0.80, 0.72, 0.55, 0.28, 0.20]],
  [1, [1.02, 0.93, 0.88, 0.78, 0.38, 0.20, 0.19]],
  [3, [0.85, 0.80, 0.78, 0.68, 0.45, 0.21, 0.20]],
  [2, [0.95, 0.88, 0.84, 0.75, 0.52, 0.26, 0.22]],
  [1, [0.90, 0.84, 0.79, 0.62, 0.35, 0.20, 0.19]],
];
const TEI_X50: Curve[] = [
  [1, [1.44, 1.12, 1.02, 1.12, 1.06, 0.60, 0.20]],
  [1, [1.39, 0.98, 0.98, 0.95, 0.77, 0.22, 0.19]],
  [2, [0.62, 0.68, 0.61, 0.50, 0.30, 0.20, 0.19]],
  [2, [0.29, 0.22, 0.26, 0.26, 0.20, 0.18, 0.18]],
  [3, [1.00, 0.90, 0.85, 0.78, 0.40, 0.19, 0.18]],
  [3, [0.95, 0.88, 0.82, 0.72, 0.35, 0.18, 0.19]],
  [2, [0.90, 0.85, 0.80, 0.65, 0.30, 0.20, 0.18]],
  [1, [0.85, 0.82, 0.78, 0.70, 0.55, 0.21, 0.20]],
  [3, [1.05, 0.92, 0.88, 0.80, 0.45, 0.19, 0.19]],
  [2, [0.88, 0.84, 0.76, 0.30, 0.20, 0.18, 0.18]],
];

const COLS = [
  { x: X_AMOX, ticks: XT_AMOX, anc: AMOX_ANC, wat: AMOX_WAT, x25: AMOX_X25, x50: AMOX_X50 },
  { x: X_AMP, ticks: XT_AMP, anc: AMP_ANC, wat: AMP_WAT, x25: AMP_X25, x50: AMP_X50 },
  { x: X_AZI, ticks: XT_AZI, anc: AZI_ANC, wat: AZI_WAT, x25: AZI_X25, x50: AZI_X50 },
  { x: X_CHL, ticks: XT_CHL, anc: CHL_ANC, wat: CHL_WAT, x25: CHL_X25, x50: CHL_X50 },
  { x: X_DOX, ticks: XT_DOX, anc: DOX_ANC, wat: DOX_WAT, x25: DOX_X25, x50: DOX_X50 },
  { x: X_ERY, ticks: XT_ERY, anc: ERY_ANC, wat: ERY_WAT, x25: ERY_X25, x50: ERY_X50 },
  { x: X_MER, ticks: XT_MER, anc: MER_ANC, wat: MER_WAT, x25: MER_X25, x50: MER_X50 },
  { x: X_MET, ticks: XT_MET, anc: MET_ANC, wat: MET_WAT, x25: MET_X25, x50: MET_X50 },
  { x: X_MTZ, ticks: XT_MTZ, anc: MTZ_ANC, wat: MTZ_WAT, x25: MTZ_X25, x50: MTZ_X50 },
  { x: X_OFL, ticks: XT_OFL, anc: OFL_ANC, wat: OFL_WAT, x25: OFL_X25, x50: OFL_X50 },
  { x: X_TEI, ticks: XT_TEI, anc: TEI_ANC, wat: TEI_WAT, x25: TEI_X25, x50: TEI_X50 },
];
const Y_TICKS = [YT_ANC, YT_WAT, YT_XAN];
const Y_RANGES = [Y_RANGE_ANC, Y_RANGE_WAT, Y_RANGE_XAN];

// layout (pixels)
const FONT = "'Liberation Sans', Arial, Helvetica, sans-serif";
const PANEL_LEFT = 177;
const PANEL_PITCH = 300.5;
const PANEL_W = 277;
const PANEL_H = 425;
const ROW_TOP = [255, 704, 1153];
const STRIP_TOP = 184;
const STRIP_H = 71;
const RSTRIP_X = 3459;
const RSTRIP_W = 69;

const SYMBOLS = ['circle', 'triangle', 'path://M5,0L5,10M0,5L10,5'];
const SYMBOL_SIZES: any[] = [18, [20, 18], 20];

function rgba(hex: string, a: number) {
  const n = parseInt(hex.slice(1), 16);
  return `rgba(${(n >> 16) & 255},${(n >> 8) & 255},${n & 255},${a})`;
}
const minus = (s: string) => s.replace('-', '\u2212');

function buildOption() {
  const grid: any[] = [];
  const xAxis: any[] = [];
  const yAxis: any[] = [];
  const series: any[] = [];
  COLS.forEach((col, c) => {
    const xs = col.x;
    const span = xs[xs.length - 1] - xs[0];
    const xmin = xs[0] - 0.05 * span;
    const xmax = xs[xs.length - 1] + 0.05 * span;
    for (let r = 0; r < 3; r++) {
      const gi = grid.length;
      grid.push({ left: PANEL_LEFT + c * PANEL_PITCH, top: ROW_TOP[r], width: PANEL_W, height: PANEL_H, containLabel: false });
      xAxis.push({
        type: 'value', gridIndex: gi, min: xmin, max: xmax,
        axisLine: { show: r === 2, onZero: false, lineStyle: { color: '#000', width: 4.5 } },
        axisTick: { show: false }, splitLine: { show: false },
        axisLabel: {
          show: r === 2, rotate: 45, customValues: col.ticks, margin: 22,
          align: 'right', verticalAlign: 'top',
          fontSize: 36, fontFamily: FONT, color: '#000',
          formatter: (v: number) => minus(c === 4 ? v.toFixed(1) : String(Math.round(v * 100) / 100)),
        },
      });
      yAxis.push({
        type: 'value', gridIndex: gi, min: Y_RANGES[r][0], max: Y_RANGES[r][1],
        axisLine: { show: c === 0, onZero: false, lineStyle: { color: '#000', width: 4.5 } },
        axisTick: { show: false }, splitLine: { show: false },
        axisLabel: {
          show: c === 0, customValues: Y_TICKS[r], margin: 14,
          fontSize: 37, fontFamily: FONT, color: '#000',
          formatter: (v: number) => v.toFixed(r === 0 ? 2 : 1),
        },
      });
      const groups: [Curve[], number][] = r === 0 ? [[col.anc, 0]] : r === 1 ? [[col.wat, 1]] : [[col.x25, 2], [col.x50, 3]];
      groups.forEach(([curves, g]) => {
        const color = GROUP_COLORS[g];
        curves.forEach(([rep, ys]) => {
          series.push({
            type: 'line', xAxisIndex: gi, yAxisIndex: gi,
            data: xs.map((x, i) => [x, ys[i]]),
            connectNulls: true, silent: true, z: 2,
            symbol: SYMBOLS[rep - 1], symbolSize: SYMBOL_SIZES[rep - 1],
            showSymbol: true, showAllSymbol: true,
            lineStyle: { color: rgba(color, 0.62), width: 3.6 },
            itemStyle: { color: 'rgba(0,0,0,0)', borderColor: rgba(color, 0.72), borderWidth: 2.6 },
            emphasis: { disabled: true },
          });
        });
      });
      THRESHOLDS.forEach((t) => {
        series.push({
          type: 'line', xAxisIndex: gi, yAxisIndex: gi,
          data: [[xmin, t], [xmax, t]], symbol: 'none', silent: true, z: 5,
          lineStyle: { color: '#BEBEBE', width: 3.5, type: [18, 18] },
          emphasis: { disabled: true },
        });
      });
    }
  });

  const graphic: any[] = [];
  const txt = (text: string, x: number, y: number, size: number, opts: any = {}) => ({
    type: 'text', x, y, rotation: opts.rotation || 0, z: 10,
    style: {
      text, fontSize: size, fontFamily: FONT, fontWeight: opts.weight || 'normal',
      fill: opts.fill || '#000',
      textAlign: opts.align || 'left', align: opts.align || 'left',
      textVerticalAlign: 'middle', verticalAlign: 'middle',
    },
  });
  DRUGS.forEach((d, c) => {
    const left = PANEL_LEFT + c * PANEL_PITCH;
    graphic.push({ type: 'rect', shape: { x: left, y: STRIP_TOP, width: PANEL_W, height: STRIP_H }, style: { fill: '#D9D9D9' }, z: 1 });
    graphic.push(txt(d, left + PANEL_W / 2, STRIP_TOP + STRIP_H / 2, 35, { align: 'center', fill: '#1A1A1A' }));
  });
  ROW_LABELS.forEach((lab, r) => {
    graphic.push({ type: 'rect', shape: { x: RSTRIP_X, y: ROW_TOP[r], width: RSTRIP_W, height: PANEL_H }, style: { fill: '#D9D9D9' }, z: 1 });
    graphic.push(txt(lab, RSTRIP_X + RSTRIP_W / 2, ROW_TOP[r] + PANEL_H / 2, 35, { align: 'center', fill: '#1A1A1A', rotation: -Math.PI / 2 }));
  });
  graphic.push(txt('OD', 40, 916, 43, { align: 'center', rotation: Math.PI / 2 }));
  graphic.push(txt('log2(Concentration)', 1818, 1727, 44, { align: 'center' }));
  graphic.push(txt('Compound and concentration of evolution', 675, 53, 43, { weight: 'bold' }));
  const keyX = [1606, 1942, 2122, 2512];
  const labX = [1645, 1980, 2158, 2551];
  GROUP_LABELS.forEach((lab, g) => {
    graphic.push({ type: 'circle', shape: { cx: keyX[g], cy: 56, r: 16 }, style: { fill: rgba(GROUP_COLORS[g], 0.55), stroke: rgba(GROUP_COLORS[g], 0.8), lineWidth: 4 }, z: 10 });
    graphic.push(txt(lab, labX[g], 55, 36));
  });
  graphic.push(txt('Biological replicate', 1253, 125, 43, { weight: 'bold' }));
  const repKeyX = [1702, 1926, 2150];
  const repLabX = [1762, 1983, 2207];
  const keyStroke = 'rgba(60,60,60,0.75)';
  graphic.push({ type: 'circle', shape: { cx: repKeyX[0], cy: 127, r: 13 }, style: { fill: 'none', stroke: keyStroke, lineWidth: 3 }, z: 10 });
  graphic.push({ type: 'polygon', shape: { points: [[repKeyX[1], 112], [repKeyX[1] + 15, 140], [repKeyX[1] - 15, 140]] }, style: { fill: 'none', stroke: keyStroke, lineWidth: 3 }, z: 10 });
  graphic.push({ type: 'line', shape: { x1: repKeyX[2] - 14, y1: 127, x2: repKeyX[2] + 14, y2: 127 }, style: { stroke: keyStroke, lineWidth: 3 }, z: 10 });
  graphic.push({ type: 'line', shape: { x1: repKeyX[2], y1: 113, x2: repKeyX[2], y2: 141 }, style: { stroke: keyStroke, lineWidth: 3 }, z: 10 });
  REP_LABELS.forEach((lab, i) => graphic.push(txt(lab, repLabX[i], 126, 36)));

  return { animation: false, backgroundColor: '#fff', grid, xAxis, yAxis, series, graphic };
}

export default function App() {
  const ref = useRef<HTMLDivElement>(null);
  useEffect(() => {
    if (!ref.current) return;
    const chart = echarts.init(ref.current, undefined, { renderer: 'svg' });
    chart.setOption(buildOption());
    return () => chart.dispose();
  }, []);
  return <div ref={ref} style={{ position: 'fixed', left: 0, top: 0, width: 3552, height: 1776, background: '#fff' }} />;
}
